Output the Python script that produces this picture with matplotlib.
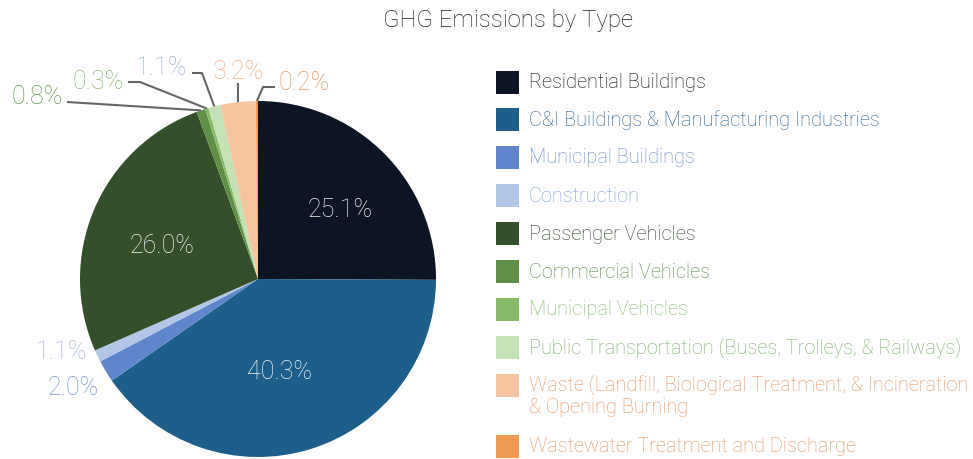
import numpy as np
import matplotlib
matplotlib.use('Agg')
import matplotlib.pyplot as plt
from matplotlib.patches import Rectangle

plt.rcParams['font.family'] = ['Roboto', 'DejaVu Sans']

categories = [
    'Residential Buildings',
    'C&I Buildings & Manufacturing Industries',
    'Municipal Buildings',
    'Construction',
    'Passenger Vehicles',
    'Commercial Vehicles',
    'Municipal Vehicles',
    'Public Transportation (Buses, Trolleys, & Railways)',
    'Waste (Landfill, Biological Treatment, & Incineration\n& Opening Burning',
    'Wastewater Treatment and Discharge',
]
shares = [25.1, 40.3, 2.0, 1.1, 26.0, 0.8, 0.3, 1.1, 3.2, 0.2]

wedge_colors = ['#0d1525', '#1d5e8b', '#5f86cc', '#b2c7e7', '#34502a',
                '#5e9048', '#86bb69', '#c5e1b6', '#f5c4a0', '#ee9a52']
text_colors = ['#0a0a0a', '#2a6090', '#6c8bc8', '#7f9fd8', '#2f402b',
               '#5c8a48', '#89ba75', '#7bae6a', '#e69660', '#e69660']

W, H = 973, 460
cx, cy, R = 258, 280, 178   # pie centre / radius in pixels (from top)

fig = plt.figure(figsize=(W / 100, H / 100), dpi=100)
fig.patch.set_facecolor('white')

ax = fig.add_axes([(cx - R) / W, (H - cy - R) / H, 2 * R / W, 2 * R / H])
ax.pie(shares, colors=wedge_colors, startangle=90, counterclock=False,
       radius=1, wedgeprops=dict(linewidth=0))
ax.set_xlim(-1, 1)
ax.set_ylim(-1, 1)
ax.axis('off')

# overlay axes in pixel coordinates for labels, lines and legend
ov = fig.add_axes([0, 0, 1, 1])
ov.set_xlim(0, W)
ov.set_ylim(H, 0)
ov.axis('off')
ov.patch.set_alpha(0)

fracs = np.array(shares) / sum(shares)
ends = np.cumsum(fracs)
mids = ends - fracs / 2
mid_angles = np.deg2rad(90 - mids * 360)


def edge(i, r=1.0):
    return cx + R * r * np.cos(mid_angles[i]), cy - R * r * np.sin(mid_angles[i])


fs = 14.4      # legend
pfs = 18       # pie labels
fw = 'light'

ov.text(508, 20, 'GHG Emissions by Type', ha='center', va='center',
        fontsize=17.3, color='#222222', fontweight=fw)

# inside labels
inside = {0: (340, 210), 1: (280, 372), 4: (162, 246)}
for i, (x, y) in inside.items():
    ov.text(x, y, f'{shares[i]:.1f}%', ha='center', va='center',
            fontsize=pfs, color='#f4f4f4', fontweight=fw)

# outside labels with leader lines: text position, line path before the edge
outside = {
    5: ((37, 97), '#6a9654', [(67, 103)]),
    6: ((98, 82), '#8db67a', [(128, 83), (140, 83)]),
    7: ((161, 68), '#a3b3dc', [(192, 74), (202, 74)]),
    8: ((238, 72), '#ecb088', [(238, 84)]),
    9: ((304, 83), '#e49a64', [(275, 88), (263, 88)]),
}
for i, ((x, y), col, path) in outside.items():
    ov.text(x, y, f'{shares[i]:.1f}%', ha='center', va='center',
            fontsize=pfs, color=col, fontweight=fw)
    ex, ey = edge(i)
    pts = path + [(ex, ey)]
    ov.plot([p[0] for p in pts], [p[1] for p in pts], color='#666666', lw=1.5,
            solid_capstyle='butt')

# left labels without lines
left = {3: ((61, 352), '#a7b5d5'), 2: ((73, 388), '#7895cf')}
for i, ((x, y), col) in left.items():
    ov.text(x, y, f'{shares[i]:.1f}%', ha='center', va='center',
            fontsize=pfs, color=col, fontweight=fw)

# legend
rows = [83, 120.5, 158, 196.5, 234.5, 272.5, 310, 348, 386, 447]
for i, (name, y) in enumerate(zip(categories, rows)):
    ov.add_patch(Rectangle((496, y - 11.5), 23, 23, color=wedge_colors[i], lw=0))
    if '\n' in name:
        ov.text(529, y - 12, name, ha='left', va='top', fontsize=fs,
                color=text_colors[i], linespacing=1.2, fontweight=fw)
    else:
        ov.text(529, y, name, ha='left', va='center', fontsize=fs,
                color=text_colors[i], fontweight=fw)

fig.savefig('out.png', dpi=100)
